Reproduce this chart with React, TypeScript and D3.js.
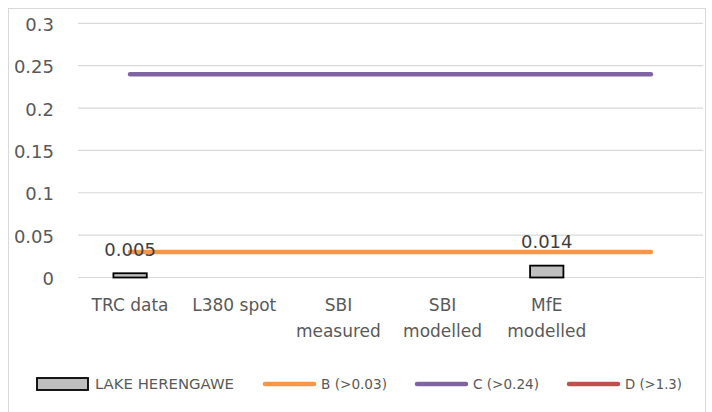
import React from "react";
import * as d3 from "d3";

const categories: string[][] = [
  ["TRC data"],
  ["L380 spot"],
  ["SBI", "measured"],
  ["SBI", "modelled"],
  ["MfE", "modelled"],
  [""],
];
const lakeValues: (number | null)[] = [0.005, null, null, null, 0.014, null];
const lakeLabels: (string | null)[] = ["0.005", null, null, null, "0.014", null];
const thresholdB = [0.03, 0.03, 0.03, 0.03, 0.03, 0.03];
const thresholdC = [0.24, 0.24, 0.24, 0.24, 0.24, 0.24];
const thresholdD = [1.3, 1.3, 1.3, 1.3, 1.3, 1.3];
const yTicks = [0, 0.05, 0.1, 0.15, 0.2, 0.25, 0.3];
const yTickLabels = ["0", "0.05", "0.1", "0.15", "0.2", "0.25", "0.3"];
const legendNames = ["LAKE HERENGAWE", "B (>0.03)", "C (>0.24)", "D (>1.3)"];

const W = 712;
const H = 412;
const FONT = "'DejaVu Sans', sans-serif";
const COLORS = { bar: "#bfbfbf", B: "#f79646", C: "#8064a2", D: "#c0504d" };

export default function App() {
  const left = 78;
  const right = 703;
  const top = 23.3;
  const bottom = 277.5;

  const x = d3
    .scaleBand<number>()
    .domain(categories.map((_, i) => i))
    .range([left, right])
    .padding(0);
  const y = d3.scaleLinear().domain([0, 0.3]).range([bottom, top]);
  const cx = (i: number) => (x(i) as number) + x.bandwidth() / 2;
  const barW = x.bandwidth() * 0.32;

  const line = d3
    .line<number>()
    .x((_, i) => cx(i))
    .y((d) => y(d));

  const series = [
    { key: "B", data: thresholdB, color: COLORS.B },
    { key: "C", data: thresholdC, color: COLORS.C },
    { key: "D", data: thresholdD, color: COLORS.D },
  ];

  const legendX = [37, 263, 415, 567];
  const legendTextW = [139, 66, 66, 57];
  const legendY = 384;

  return (
    <svg
      width={W}
      height={H}
      style={{ position: "absolute", left: 0, top: 0, background: "#fff" }}
      fontFamily={FONT}
    >
      <defs>
        <clipPath id="plot">
          <rect x={0} y={top - 4} width={W} height={bottom - top + 8} />
        </clipPath>
      </defs>
      <rect x={8.5} y={8.5} width={697} height={410} fill="#fff" stroke="#d9d9d9" strokeWidth={1} />

      {yTicks.map((t, i) => (
        <g key={i}>
          <line x1={left} x2={right} y1={y(t)} y2={y(t)} stroke="#d9d9d9" strokeWidth={1.2} />
          <text x={54} y={y(t) + 7.5} textAnchor="end" fontSize={18} fill="#595959">
            {yTickLabels[i]}
          </text>
        </g>
      ))}

      {categories.map((lines, i) => (
        <text key={i} textAnchor="middle" fontSize={17} fill="#595959">
          {lines.map((l, j) => (
            <tspan key={j} x={cx(i)} y={311 + j * 26}>
              {l}
            </tspan>
          ))}
        </text>
      ))}

      {lakeValues.map((v, i) =>
        v == null ? null : (
          <rect
            key={i}
            x={cx(i) - barW / 2}
            y={y(v)}
            width={barW}
            height={bottom - y(v)}
            fill={COLORS.bar}
            stroke="#000"
            strokeWidth={1.8}
          />
        )
      )}

      <g clipPath="url(#plot)">
        {series.map((s) => (
          <path
            key={s.key}
            d={line(s.data) || ""}
            fill="none"
            stroke={s.color}
            strokeWidth={4.5}
            strokeLinecap="round"
          />
        ))}
      </g>

      {lakeValues.map((v, i) =>
        v == null ? null : (
          <text key={i} x={cx(i)} y={y(v) - 17.5} textAnchor="middle" fontSize={18} fill="#404040">
            {lakeLabels[i]}
          </text>
        )
      )}

      <g fontSize={13.5} fill="#595959">
        <rect x={legendX[0]} y={legendY - 6} width={51} height={12} fill={COLORS.bar} stroke="#000" strokeWidth={1.8} />
        <text x={legendX[0] + 58} y={legendY + 5} textLength={legendTextW[0]} lengthAdjust="spacingAndGlyphs">
          {legendNames[0]}
        </text>
        {series.map((s, k) => (
          <g key={s.key}>
            <line
              x1={legendX[k + 1] + 2}
              x2={legendX[k + 1] + 51}
              y1={legendY}
              y2={legendY}
              stroke={s.color}
              strokeWidth={4.5}
              strokeLinecap="round"
            />
            <text
              x={legendX[k + 1] + 58}
              y={legendY + 5}
              textLength={legendTextW[k + 1]}
              lengthAdjust="spacingAndGlyphs"
            >
              {legendNames[k + 1]}
            </text>
          </g>
        ))}
      </g>
    </svg>
  );
}
